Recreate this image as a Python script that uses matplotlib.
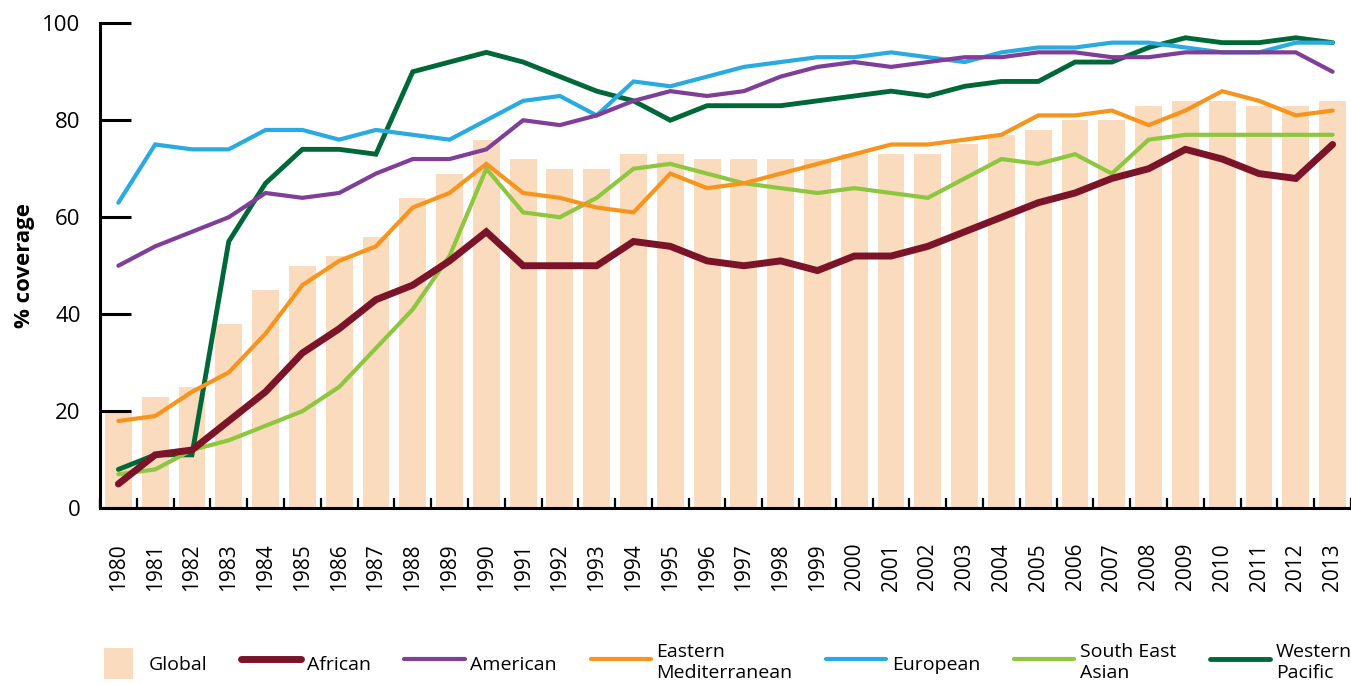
import matplotlib
matplotlib.use("Agg")
import matplotlib.pyplot as plt
from matplotlib.patches import Rectangle
from matplotlib.legend_handler import HandlerPatch
from matplotlib.ticker import MultipleLocator

plt.rcParams['font.family'] = ['Open Sans', 'DejaVu Sans']

years = list(range(1980, 2014))

global_cov = [20, 23, 25, 38, 45, 50, 52, 56, 64, 69, 76, 72, 70, 70, 73, 73, 72,
              72, 72, 72, 73, 73, 73, 75, 77, 78, 80, 80, 83, 84, 84, 83, 83, 84]
african = [5, 11, 12, 18, 24, 32, 37, 43, 46, 51, 57, 50, 50, 50, 55, 54, 51,
           50, 51, 49, 52, 52, 54, 57, 60, 63, 65, 68, 70, 74, 72, 69, 68, 75]
american = [50, 54, 57, 60, 65, 64, 65, 69, 72, 72, 74, 80, 79, 81, 84, 86, 85,
            86, 89, 91, 92, 91, 92, 93, 93, 94, 94, 93, 93, 94, 94, 94, 94, 90]
east_med = [18, 19, 24, 28, 36, 46, 51, 54, 62, 65, 71, 65, 64, 62, 61, 69, 66,
            67, 69, 71, 73, 75, 75, 76, 77, 81, 81, 82, 79, 82, 86, 84, 81, 82]
european = [63, 75, 74, 74, 78, 78, 76, 78, 77, 76, 80, 84, 85, 81, 88, 87, 89,
            91, 92, 93, 93, 94, 93, 92, 94, 95, 95, 96, 96, 95, 94, 94, 96, 96]
se_asian = [7, 8, 12, 14, 17, 20, 25, 33, 41, 52, 70, 61, 60, 64, 70, 71, 69,
            67, 66, 65, 66, 65, 64, 68, 72, 71, 73, 69, 76, 77, 77, 77, 77, 77]
w_pacific = [8, 11, 11, 55, 67, 74, 74, 73, 90, 92, 94, 92, 89, 86, 84, 80, 83,
             83, 83, 84, 85, 86, 85, 87, 88, 88, 92, 92, 95, 97, 96, 96, 97, 96]

bar_color = '#FADBBE'
# (label, values, colour, width) in legend order
regions = [
    ("African", african, '#7B1428', 5.0),
    ("American", american, '#7F3F98', 3.0),
    ("Eastern\nMediterranean", east_med, '#F7941D', 3.0),
    ("European", european, '#29ABE2', 3.0),
    ("South East\nAsian", se_asian, '#8DC63F', 3.0),
    ("Western\nPacific", w_pacific, '#006838', 3.5),
]

fig = plt.figure(figsize=(13.51, 6.84), dpi=100)
ax = fig.add_axes([0.074, 0.257, 0.926, 0.709])

bars = ax.bar(years, global_cov, width=0.73, color=bar_color, zorder=1)

# thin lines first, African on top
handles = {}
for i in [5, 4, 3, 2, 1, 0]:
    label, vals, col, lw = regions[i]
    ln, = ax.plot(years, vals, color=col, lw=lw, zorder=3,
                  solid_joinstyle='miter', solid_capstyle='round')
    handles[i] = ln

ax.set_xlim(1979.5, 2013.5)
ax.set_ylim(0, 100)

for s in ['top', 'right']:
    ax.spines[s].set_visible(False)
for s in ['left', 'bottom']:
    ax.spines[s].set_linewidth(2.2)
    ax.spines[s].set_color('black')

ax.set_yticks([0, 20, 40, 60, 80, 100])
ax.tick_params(axis='y', direction='in', length=22, width=2.2, pad=14, labelsize=16)
ax.set_xticks(years)
ax.set_xticklabels([str(y) for y in years], rotation=90, va='top')
ax.tick_params(axis='x', which='major', length=0, pad=25, labelsize=15)
ax.xaxis.set_minor_locator(MultipleLocator(1, offset=0.5))
ax.tick_params(axis='x', which='minor', direction='in', length=7, width=1.6)

ax.set_ylabel("% coverage", fontsize=16, fontweight='bold')
ax.yaxis.set_label_coords(-0.052, 0.5)


def tall_patch(legend, orig_handle, xdescent, ydescent, width, height, fontsize):
    return Rectangle((-xdescent + width * 0.36, -ydescent), width * 0.47, height)


leg_handles = [bars.patches[0]] + [handles[i] for i in range(6)]
leg_labels = ["Global"] + [r[0] for r in regions]
fig.legend(leg_handles, leg_labels, loc='center', bbox_to_anchor=(0.531, 0.031),
           ncol=7, frameon=False, fontsize=14, handlelength=3.1, handleheight=2.1,
           handletextpad=0.3, columnspacing=1.72, labelspacing=0.2,
           handler_map={Rectangle: HandlerPatch(patch_func=tall_patch)})

fig.savefig("out.png", dpi=100)
